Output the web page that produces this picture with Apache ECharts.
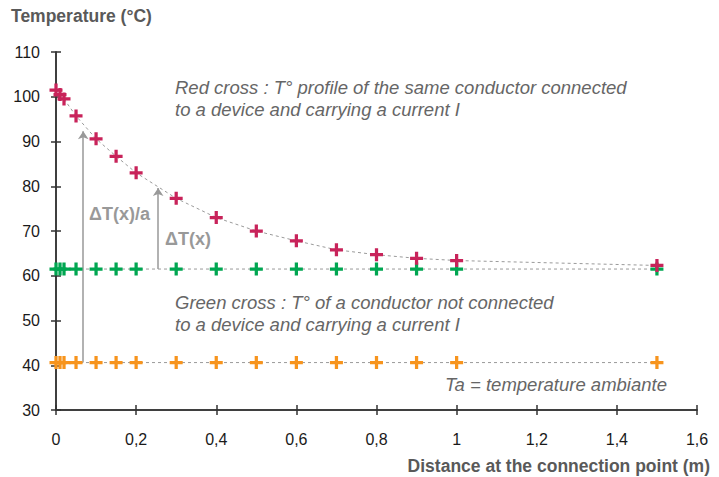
<!DOCTYPE html>
<html><head><meta charset="utf-8">
<script src="https://cdn.jsdelivr.net/npm/echarts@6/dist/echarts.min.js"></script>
<style>html,body{margin:0;padding:0;background:#fff}#c{width:719px;height:477px}</style>
</head><body><div id="c"></div>
<script>
// ---- data ----
const distances    = [0, 0.01, 0.02, 0.05, 0.1, 0.15, 0.2, 0.3, 0.4, 0.5, 0.6, 0.7, 0.8, 0.9, 1.0, 1.5];
const redTemps     = [101.5, 100.5, 99.5, 95.7, 90.6, 86.7, 83.0, 77.3, 73.0, 70.0, 67.8, 65.8, 64.7, 63.9, 63.4, 62.3];
const greenTemps   = [61.5, 61.5, 61.5, 61.5, 61.5, 61.5, 61.5, 61.5, 61.5, 61.5, 61.5, 61.5, 61.5, 61.5, 61.5, 61.5];
const orangeTemps  = [40.6, 40.6, 40.6, 40.6, 40.6, 40.6, 40.6, 40.6, 40.6, 40.6, 40.6, 40.6, 40.6, 40.6, 40.6, 40.6];
const xTickLabels  = ['0', '0,2', '0,4', '0,6', '0,8', '1', '1,2', '1,4', '1,6'];
const yTickLabels  = ['30', '40', '50', '60', '70', '80', '90', '100', '110'];
// arrows: [x, from, to]
const arrowDTa = [0.068, 40.6, 92.3];
const arrowDT  = [0.255, 61.5, 79.6];

const pair = (xs, ys) => xs.map((x, i) => [x, ys[i]]);
const plus = 'path://M4.5,0 H7.5 V4.5 H12 V7.5 H7.5 V12 H4.5 V7.5 H0 V4.5 H4.5 Z';
const FONT = '"Liberation Sans", Arial, sans-serif';

function crossSeries(name, data, color, z) {
  return {
    name, type: 'line', data, z,
    symbol: plus, symbolSize: 13,
    itemStyle: { color },
    lineStyle: { color: '#9a9a9a', width: 1, type: [3, 3] },
    animation: false
  };
}

const axisCommon = {
  axisLine: { show: true, lineStyle: { color: '#333', width: 1.5 } },
  splitLine: { show: false }
};

const chart = echarts.init(document.getElementById('c'), null, { renderer: 'svg' });
chart.setOption({
  backgroundColor: '#fff',
  animation: false,
  grid: { left: 56, right: 22, top: 52, bottom: 67 },
  xAxis: [
    Object.assign({ type: 'value', min: 0, max: 1.6, interval: 0.2,
      axisTick: { show: true, length: 5, lineStyle: { color: '#333', width: 1.5 } },
      axisLabel: { margin: 21, color: '#1a1a1a', fontSize: 16, fontFamily: FONT,
        formatter: (v) => xTickLabels[Math.round(v / 0.2)] } }, axisCommon),
    Object.assign({ type: 'value', min: 0, max: 1.6, interval: 0.2, position: 'bottom',
      axisTick: { show: true, inside: true, length: 5, lineStyle: { color: '#333', width: 1.5 } },
      axisLabel: { show: false } }, axisCommon)
  ],
  yAxis: [
    Object.assign({ type: 'value', min: 30, max: 110, interval: 10,
      axisTick: { show: true, length: 5, lineStyle: { color: '#333', width: 1.5 } },
      axisLabel: { margin: 16, color: '#1a1a1a', fontSize: 16, fontFamily: FONT,
        formatter: (v) => yTickLabels[Math.round((v - 30) / 10)] } }, axisCommon),
    Object.assign({ type: 'value', min: 30, max: 110, interval: 10, position: 'left',
      axisTick: { show: true, inside: true, length: 5, lineStyle: { color: '#333', width: 1.5 } },
      axisLabel: { show: false } }, axisCommon)
  ],
  series: [
    {
      type: 'lines', coordinateSystem: 'cartesian2d', z: 1,
      symbol: ['none', 'arrow'], symbolSize: 8,
      lineStyle: { color: '#999', width: 1.5, opacity: 1 },
      data: [
        { coords: [[arrowDTa[0], arrowDTa[1]], [arrowDTa[0], arrowDTa[2]]] },
        { coords: [[arrowDT[0], arrowDT[1]], [arrowDT[0], arrowDT[2]]] }
      ]
    },
    crossSeries('Ta', pair(distances, orangeTemps), '#f7941d', 3),
    crossSeries('Green', pair(distances, greenTemps), '#00a651', 4),
    crossSeries('Red', pair(distances, redTemps), '#c8235a', 5)
  ],
  graphic: [
    { type: 'text', left: 11, top: 7, style: { text: 'Temperature (°C)', font: 'bold 17.5px ' + FONT, fill: '#595959' } },
    { type: 'text', right: 9, top: 457, style: { text: 'Distance at the connection point (m)', font: 'bold 17.5px ' + FONT, fill: '#595959' } },
    { type: 'text', left: 175, top: 76, style: { text: 'Red cross : T° profile of the same conductor connected\nto a device and carrying a current I', font: 'italic 18.5px ' + FONT, fill: '#666', lineHeight: 22 } },
    { type: 'text', left: 175, top: 291, style: { text: 'Green cross : T° of a conductor not connected\nto a device and carrying a current I', font: 'italic 18.5px ' + FONT, fill: '#666', lineHeight: 22 } },
    { type: 'text', left: 445, top: 373, style: { text: 'Ta = temperature ambiante', font: 'italic 18.5px ' + FONT, fill: '#666', lineHeight: 22 } },
    { type: 'text', left: 89, top: 205, style: { text: 'ΔT(x)/a', font: 'bold 18px ' + FONT, fill: '#999' } },
    { type: 'text', left: 165, top: 230, style: { text: 'ΔT(x)', font: 'bold 18px ' + FONT, fill: '#999' } }
  ]
});
</script>
</body></html>
